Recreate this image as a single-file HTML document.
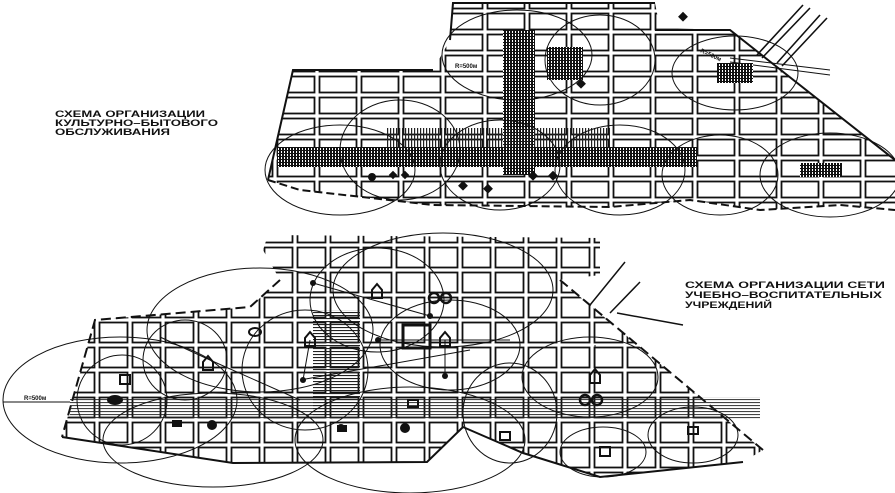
<!DOCTYPE html>
<html><head><meta charset="utf-8"><style>
html,body{margin:0;padding:0;background:#fff;}
svg{display:block;}
text{font-family:"Liberation Sans",sans-serif;font-weight:bold;font-size:9.5px;fill:#111;}
</style></head><body>
<svg width="895" height="493" viewBox="0 0 895 493" xmlns="http://www.w3.org/2000/svg">
<defs>
<pattern id="blk" width="42" height="21" patternUnits="userSpaceOnUse" x="275" y="74">
<rect x="2.5" y="2.5" width="37" height="16" fill="none" stroke="#111" stroke-width="1.8"/>
</pattern>
<pattern id="blk2" width="33" height="25" patternUnits="userSpaceOnUse" x="262" y="245">
<rect x="2.5" y="2.5" width="28" height="20" fill="none" stroke="#111" stroke-width="1.8"/>
</pattern>
<pattern id="hatch" width="3" height="3" patternUnits="userSpaceOnUse">
<rect width="3" height="3" fill="#fff"/><rect width="2" height="3" fill="#111"/><rect width="3" height="1" fill="#111"/>
</pattern>
<pattern id="vl" width="3" height="4" patternUnits="userSpaceOnUse">
<rect width="1.2" height="4" fill="#222"/>
</pattern>
<pattern id="hl" width="4" height="3" patternUnits="userSpaceOnUse">
<rect width="4" height="1.1" fill="#222"/>
</pattern>
<clipPath id="top"><path d="M293 70 L433 70 L450 40 L453 3 L655 3 L660 28 L730 30 L895 160 L895 210 L840 205 L760 210 L690 200 L610 207 L433 205 L300 190 L268 180 Z"/></clipPath>
<clipPath id="bot"><path d="M95 320 L250 307 L280 280 L263 250 L268 235 L600 238 L600 275 L560 280 L763 450 L743 462 L600 477 L523 453 L463 427 L427 462 L233 463 L62 437 Z"/></clipPath>
</defs>

<!-- TOP PLAN -->
<g clip-path="url(#top)">
<rect x="260" y="0" width="640" height="220" fill="url(#blk)"/>
</g>
<path d="M268 180 L300 190 L433 205 L610 207 L690 200 L760 210 L840 205 L895 210" fill="none" stroke="#111" stroke-width="2" stroke-dasharray="8 4"/>
<path d="M268 180 L293 70 L433 70 M450 40 L453 3 L655 3 M655 30 L730 30 L895 160" fill="none" stroke="#111" stroke-width="2"/>
<path d="M803 5 L757 55 M810 8 L762 58 M820 15 L777 63 M827 18 L782 66" stroke="#111" stroke-width="1.6" fill="none"/>
<path d="M730 62 L830 75 M730 58 L830 70" stroke="#111" stroke-width="1" fill="none"/>
<rect x="277" y="147" width="420" height="20" fill="url(#hatch)"/>
<rect x="503" y="30" width="32" height="145" fill="url(#hatch)"/>
<rect x="547" y="47" width="36" height="33" fill="url(#hatch)"/>
<rect x="717" y="63" width="36" height="20" fill="url(#hatch)"/>
<rect x="800" y="163" width="42" height="14" fill="url(#hatch)"/>
<rect x="387" y="128" width="223" height="19" fill="url(#vl)"/>
<g fill="none" stroke="#111" stroke-width="1">
<ellipse cx="340" cy="170" rx="75" ry="45"/><ellipse cx="400" cy="150" rx="60" ry="50"/>
<ellipse cx="517" cy="55" rx="75" ry="45"/><ellipse cx="600" cy="60" rx="55" ry="45"/>
<ellipse cx="500" cy="165" rx="60" ry="45"/><ellipse cx="620" cy="170" rx="65" ry="45"/>
<ellipse cx="735" cy="73" rx="63" ry="37"/><ellipse cx="720" cy="175" rx="58" ry="40"/>
<ellipse cx="830" cy="175" rx="70" ry="42"/>
</g>
<g fill="#111">
<circle cx="372" cy="177" r="4"/>
<rect x="390" y="172" width="6" height="6" transform="rotate(45 393 175)"/>
<rect x="402" y="172" width="6" height="6" transform="rotate(45 405 175)"/>
<rect x="460" y="182" width="7" height="7" transform="rotate(45 463 185)"/>
<rect x="485" y="185" width="7" height="7" transform="rotate(45 488 188)"/>
<rect x="530" y="172" width="7" height="7" transform="rotate(45 533 175)"/>
<rect x="550" y="172" width="7" height="7" transform="rotate(45 553 175)"/>
<rect x="578" y="80" width="7" height="7" transform="rotate(45 581 83)"/>
<rect x="680" y="13" width="7" height="7" transform="rotate(45 683 16)"/>
</g>
<text x="55" y="117" textLength="150" lengthAdjust="spacingAndGlyphs">СХЕМА  ОРГАНИЗАЦИИ</text>
<text x="55" y="126" textLength="163" lengthAdjust="spacingAndGlyphs">КУЛЬТУРНО–БЫТОВОГО</text>
<text x="55" y="135" textLength="115" lengthAdjust="spacingAndGlyphs">ОБСЛУЖИВАНИЯ</text>
<text x="455" y="68" style="font-size:6px">R=500м</text>
<text x="700" y="52" style="font-size:6px" transform="rotate(25 700 52)">R=500м</text>

<!-- BOTTOM PLAN -->
<g clip-path="url(#bot)">
<rect x="40" y="230" width="760" height="260" fill="url(#blk2)"/>
</g>
<path d="M280 280 L250 307 L95 320 L62 437 M560 280 L763 450" fill="none" stroke="#111" stroke-width="2" stroke-dasharray="10 5"/>
<path d="M62 437 L233 463 L427 462 L463 427 L523 453 L600 477 L743 462" fill="none" stroke="#111" stroke-width="2"/>
<path d="M625 262 L590 305 M640 282 L610 313 M617 313 L683 325" stroke="#111" stroke-width="1.5" fill="none"/>
<rect x="313" y="310" width="47" height="107" fill="url(#hl)"/>
<rect x="70" y="397" width="690" height="22" fill="url(#hl)" opacity="0.85"/>
<rect x="403" y="325" width="27" height="23" fill="none" stroke="#111" stroke-width="3"/>
<g fill="none" stroke="#111" stroke-width="1">
<ellipse cx="120" cy="400" rx="117" ry="63"/><ellipse cx="260" cy="330" rx="113" ry="62"/>
<ellipse cx="213" cy="440" rx="110" ry="47"/><ellipse cx="122" cy="400" rx="45" ry="45"/>
<ellipse cx="185" cy="360" rx="42" ry="40"/><ellipse cx="305" cy="370" rx="63" ry="60"/>
<ellipse cx="377" cy="300" rx="67" ry="52"/><ellipse cx="443" cy="290" rx="110" ry="57"/>
<ellipse cx="450" cy="345" rx="70" ry="45"/><ellipse cx="410" cy="440" rx="115" ry="53"/>
<ellipse cx="510" cy="413" rx="47" ry="50"/><ellipse cx="590" cy="377" rx="68" ry="40"/>
<ellipse cx="693" cy="435" rx="45" ry="28"/><ellipse cx="603" cy="452" rx="43" ry="25"/>
</g>
<g stroke="#111" stroke-width="1" fill="none">
<path d="M160 337 L210 360 L300 400 M313 283 L430 316 M300 380 L470 350 M595 345 L595 380 M310 340 L303 380 M445 340 L445 376 M377 340 L510 340"/>
</g>
<g fill="#111">
<ellipse cx="115" cy="400" rx="8" ry="5"/><circle cx="212" cy="425" r="5"/>
<circle cx="405" cy="428" r="5"/><circle cx="341" cy="428" r="4"/>
<circle cx="313" cy="283" r="3"/><circle cx="378" cy="340" r="3"/><circle cx="430" cy="316" r="3"/><circle cx="303" cy="380" r="3"/><circle cx="445" cy="376" r="3"/>
<rect x="120" y="375" width="10" height="9" fill="none" stroke="#111" stroke-width="2"/>
<rect x="408" y="400" width="10" height="7" fill="none" stroke="#111" stroke-width="2"/>
<rect x="600" y="447" width="10" height="9" fill="none" stroke="#111" stroke-width="2"/>
<rect x="688" y="427" width="10" height="7" fill="none" stroke="#111" stroke-width="2"/>
<rect x="500" y="432" width="10" height="8" fill="none" stroke="#111" stroke-width="2"/>
<rect x="172" y="420" width="10" height="7"/><rect x="337" y="425" width="10" height="7"/>
<ellipse cx="255" cy="332" rx="6" ry="4" fill="none" stroke="#111" stroke-width="2"/>
<circle cx="434" cy="298" r="5" fill="none" stroke="#111" stroke-width="2.5"/><circle cx="446" cy="298" r="5" fill="none" stroke="#111" stroke-width="2.5"/>
<circle cx="585" cy="400" r="5" fill="none" stroke="#111" stroke-width="2.5"/><circle cx="597" cy="400" r="5" fill="none" stroke="#111" stroke-width="2.5"/>
<path d="M372 290 l5 -6 l5 6 v8 h-10z" fill="none" stroke="#111" stroke-width="2"/>
<path d="M305 338 l5 -6 l5 6 v8 h-10z" fill="none" stroke="#111" stroke-width="2"/>
<path d="M440 338 l5 -6 l5 6 v8 h-10z" fill="none" stroke="#111" stroke-width="2"/>
<path d="M203 362 l5 -6 l5 6 v8 h-10z" fill="none" stroke="#111" stroke-width="2"/>
<path d="M590 375 l5 -6 l5 6 v8 h-10z" fill="none" stroke="#111" stroke-width="2"/>
</g>
<text x="685" y="288" textLength="200" lengthAdjust="spacingAndGlyphs">СХЕМА  ОРГАНИЗАЦИИ  СЕТИ</text>
<text x="685" y="298" textLength="197" lengthAdjust="spacingAndGlyphs">УЧЕБНО–ВОСПИТАТЕЛЬНЫХ</text>
<text x="685" y="308" textLength="87" lengthAdjust="spacingAndGlyphs">УЧРЕЖДЕНИЙ</text>
<line x1="3" y1="402" x2="70" y2="402" stroke="#111"/>
<text x="24" y="400" style="font-size:6px">R=500м</text>
</svg>
</body></html>
